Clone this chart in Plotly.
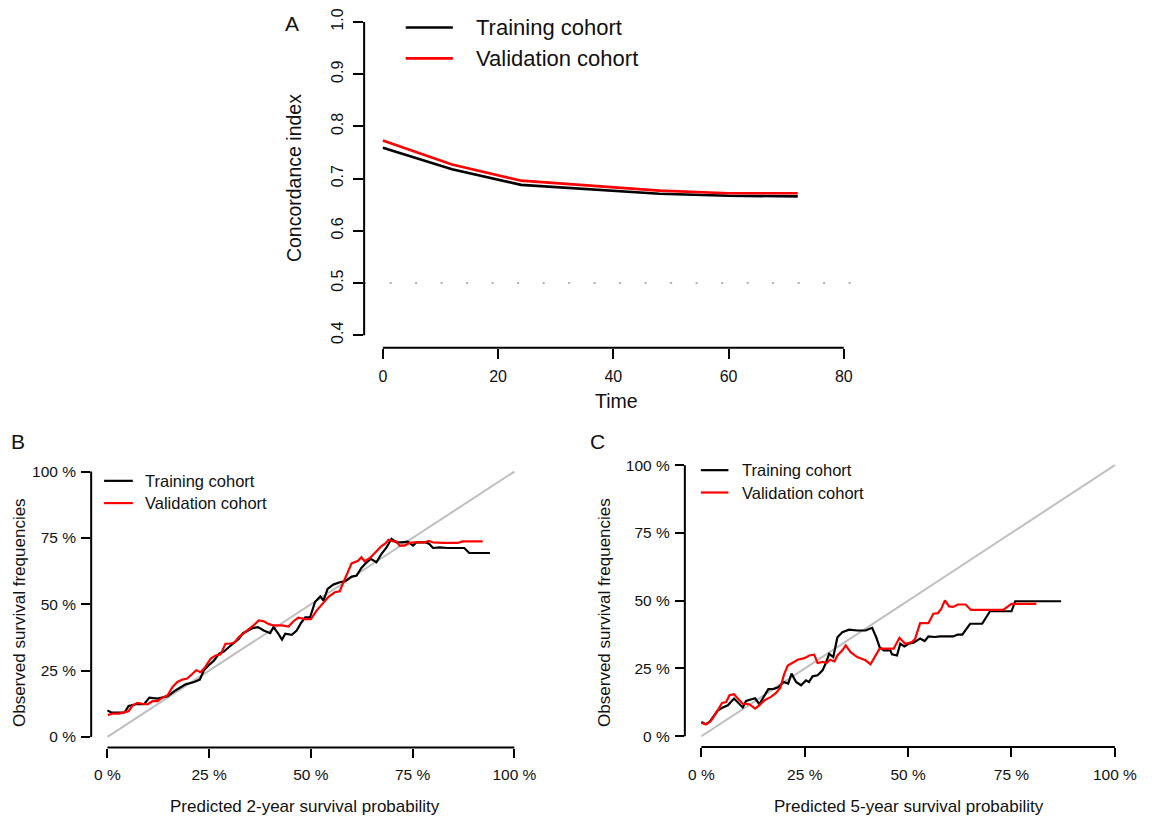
import plotly.graph_objects as go

# ---------------- Data ----------------
# Panel A: time-dependent concordance index
time_points = [0, 12, 24, 36, 48, 60, 72]
cindex_training = [0.759, 0.718, 0.688, 0.679, 0.671, 0.667, 0.666]
cindex_validation = [0.773, 0.727, 0.696, 0.686, 0.677, 0.672, 0.672]

# Panel B: 2-year calibration (predicted %, observed %)
b_train_x = [0.0, 0.9, 4.2, 5.2, 7.0, 9.0, 10.3, 12.3, 14.8, 16.8, 19.2, 21.3, 22.7, 23.7, 24.9,
             26.2, 27.4, 28.6, 29.8, 31.0, 32.3, 33.3, 34.7, 35.9, 37.0, 38.4, 40.0, 40.8, 41.9,
             42.9, 43.7, 45.3, 46.5, 47.5, 48.6, 49.8, 51.0, 52.3, 53.1, 54.1, 55.5, 57.1, 58.4,
             60.0, 61.2, 62.4, 63.7, 64.7, 66.1, 67.3, 68.5, 69.8, 71.0, 72.2, 73.8, 75.1, 75.9,
             78.3, 79.1, 80.0, 81.6, 83.6, 87.7, 88.9, 94.0]
b_train_y = [10.0, 9.2, 9.2, 11.7, 12.3, 12.3, 14.8, 14.4, 15.3, 17.6, 19.8, 20.7, 21.6, 25.1, 27.0,
             28.8, 31.3, 32.2, 33.8, 35.3, 37.0, 39.1, 40.1, 41.1, 41.4, 40.1, 39.1, 41.4, 39.1,
             36.7, 38.9, 38.5, 40.1, 42.8, 45.1, 45.1, 50.8, 52.9, 51.4, 55.8, 57.4, 58.3, 58.7,
             60.4, 60.7, 63.7, 65.8, 67.1, 65.8, 68.9, 71.2, 74.6, 73.3, 73.3, 73.6, 72.1, 73.3,
             73.3, 72.7, 71.2, 71.4, 71.2, 71.2, 69.3, 69.3]
b_valid_x = [0.1, 1.3, 2.9, 4.2, 5.2, 6.2, 7.4, 8.6, 9.9, 11.1, 12.3, 13.5, 14.8, 16.0, 17.2, 18.4,
             19.6, 20.9, 21.8, 22.9, 24.0, 25.4, 26.6, 27.8, 29.0, 30.2, 31.3, 32.3, 33.5, 34.7,
             35.9, 37.2, 38.4, 39.6, 40.8, 42.9, 44.5, 45.7, 46.9, 48.6, 50.0, 51.4, 53.1, 54.4,
             55.9, 57.1, 58.0, 59.0, 60.0, 61.6, 62.4, 63.2, 64.5, 65.7, 67.2, 68.3, 69.1, 70.2,
             71.0, 71.8, 73.0, 74.2, 75.4, 77.9, 78.9, 80.0, 82.4, 86.1, 87.3, 92.2]
b_valid_y = [8.2, 8.8, 8.8, 9.4, 9.7, 11.9, 12.8, 12.5, 12.3, 13.5, 13.5, 14.8, 15.7, 18.8, 20.7, 21.6,
             22.0, 23.8, 25.1, 24.4, 26.3, 29.5, 30.7, 31.1, 35.1, 35.1, 35.7, 37.6, 39.1, 40.4,
             42.0, 43.9, 43.6, 42.6, 42.0, 42.0, 41.6, 43.6, 44.9, 44.4, 44.4, 47.6, 50.8, 52.9,
             54.5, 54.9, 58.3, 62.0, 65.4, 66.4, 67.7, 66.2, 67.4, 69.3, 71.7, 72.9, 74.3, 73.7,
             73.7, 72.1, 72.1, 73.1, 73.3, 73.3, 73.9, 73.3, 73.1, 73.1, 73.7, 73.7]

# Panel C: 5-year calibration (predicted %, observed %)
c_train_x = [0.0, 1.0, 2.0, 3.0, 4.0, 5.2, 6.4, 7.9, 8.8, 10.0, 10.8, 12.4, 13.0, 14.0, 15.2, 16.2,
             17.5, 18.6, 19.9, 21.0, 21.8, 22.9, 24.1, 25.3, 26.0, 26.9, 28.1, 29.3, 30.1, 30.9,
             31.9, 32.9, 34.1, 35.7, 37.7, 39.7, 41.3, 42.3, 43.1, 44.1, 45.7, 46.1, 47.3, 48.1,
             49.1, 50.1, 51.3, 52.9, 54.0, 54.9, 56.5, 57.7, 60.9, 62.0, 63.1, 65.0, 67.9, 69.8,
             75.0, 75.9, 87.0]
c_train_y = [5.3, 4.4, 5.3, 7.7, 9.6, 10.6, 11.4, 13.9, 12.6, 10.6, 13.0, 13.9, 14.0, 11.8, 14.7, 17.4,
             17.5, 18.1, 20.0, 19.4, 23.1, 20.0, 18.8, 20.6, 20.0, 22.1, 22.5, 24.3, 27.0, 30.4,
             29.2, 36.5, 38.4, 39.3, 39.0, 39.0, 40.0, 36.5, 32.9, 31.7, 31.7, 30.2, 29.8, 34.1,
             33.1, 34.1, 34.5, 36.0, 35.1, 36.8, 36.6, 36.8, 36.8, 37.5, 37.5, 41.5, 41.5, 46.1,
             46.1, 49.8, 49.8]
c_valid_x = [0.0, 1.2, 2.4, 3.6, 5.0, 6.0, 6.8, 7.9, 8.8, 10.0, 11.6, 13.0, 14.0, 15.2, 16.8, 18.0,
             19.1, 20.0, 20.9, 22.1, 23.3, 24.9, 26.1, 27.3, 28.1, 29.3, 30.3, 31.1, 32.2, 32.9,
             34.1, 34.9, 36.1, 37.7, 39.7, 40.9, 42.3, 43.1, 46.5, 47.9, 49.3, 50.9, 51.7, 52.9,
             54.9, 56.1, 57.2, 58.0, 58.9, 59.9, 60.9, 62.0, 63.9, 65.2, 73.0, 75.0, 81.0]
c_valid_y = [4.9, 4.4, 5.9, 8.6, 12.3, 12.6, 15.1, 15.5, 13.9, 12.0, 11.8, 10.2, 11.4, 13.2, 14.5, 15.9,
             17.9, 22.8, 26.1, 27.0, 28.2, 28.8, 29.8, 30.1, 27.0, 27.4, 27.0, 28.2, 27.6, 29.8,
             31.7, 33.5, 31.0, 29.2, 28.0, 26.5, 30.4, 32.3, 32.3, 36.3, 34.1, 34.7, 36.0, 41.7,
             41.7, 45.2, 45.4, 47.0, 50.1, 47.9, 47.7, 48.6, 48.6, 46.6, 46.6, 48.8, 48.8]

ideal = [0, 100]
series_names = ["Training cohort", "Validation cohort"]
pct_ticks = [0, 25, 50, 75, 100]
a_xticks = [0, 20, 40, 60, 80]
a_yticks = [0.4, 0.5, 0.6, 0.7, 0.8, 0.9, 1.0]

# ---------------- Layout helpers ----------------
# The page body has an 8px margin, so the figure is sized to fit inside the window
OFF = 8
W, H = 1157 - OFF, 819 - OFF
def fx(p):
    return min(max((p - OFF) / W, 0.0), 1.0)
def fy(p):
    return min(max(1 - (p - OFF) / H, 0.0), 1.0)

FONT = "Arial, 'Liberation Sans', Helvetica, sans-serif"
TXT = "#111111"
BLACK = "#000000"
RED = "#ff0000"
GREY = "#bfbfbf"

# Panel A pixel scale: 0.4 at y=334, 1.0 at y=20 -> plot top clipped at y=8
A_PX_PER_UNIT = (334 - 20) / 0.6
a_ytop = 1.0 + (20 - OFF) / A_PX_PER_UNIT

fig = go.Figure()

# Panel A
fig.add_trace(go.Scatter(x=time_points, y=cindex_training, mode="lines",
                         line=dict(color=BLACK, width=2.6), xaxis="x", yaxis="y",
                         name=series_names[0], showlegend=False))
fig.add_trace(go.Scatter(x=time_points, y=cindex_validation, mode="lines",
                         line=dict(color=RED, width=2.6), xaxis="x", yaxis="y",
                         name=series_names[1], showlegend=False))

# Panel B
fig.add_trace(go.Scatter(x=ideal, y=ideal, mode="lines", line=dict(color=GREY, width=2),
                         xaxis="x2", yaxis="y2", showlegend=False, hoverinfo="skip"))
fig.add_trace(go.Scatter(x=b_train_x, y=b_train_y, mode="lines", line=dict(color=BLACK, width=2.2),
                         xaxis="x2", yaxis="y2", name=series_names[0], showlegend=False))
fig.add_trace(go.Scatter(x=b_valid_x, y=b_valid_y, mode="lines", line=dict(color=RED, width=2.2),
                         xaxis="x2", yaxis="y2", name=series_names[1], showlegend=False))

# Panel C
fig.add_trace(go.Scatter(x=ideal, y=ideal, mode="lines", line=dict(color=GREY, width=2),
                         xaxis="x3", yaxis="y3", showlegend=False, hoverinfo="skip"))
fig.add_trace(go.Scatter(x=c_train_x, y=c_train_y, mode="lines", line=dict(color=BLACK, width=2.2),
                         xaxis="x3", yaxis="y3", name=series_names[0], showlegend=False))
fig.add_trace(go.Scatter(x=c_valid_x, y=c_valid_y, mode="lines", line=dict(color=RED, width=2.2),
                         xaxis="x3", yaxis="y3", name=series_names[1], showlegend=False))

def axis_common(ticklen, size):
    return dict(showgrid=False, zeroline=False, showline=False, ticks="outside",
                ticklen=ticklen, tickwidth=2, tickcolor=BLACK, ticklabeloverflow="allow",
                tickfont=dict(family=FONT, size=size, color=TXT), fixedrange=True)

fig.update_layout(
    width=W, height=H, margin=dict(l=0, r=0, t=0, b=0),
    paper_bgcolor="white", plot_bgcolor="white",
    xaxis=dict(domain=[fx(366), fx(874)], range=[-3.25, 84.45], anchor="y",
               tickmode="array", tickvals=a_xticks, ticklabelstandoff=4,
               **axis_common(10, 16)),
    yaxis=dict(domain=[fy(346.56), 1.0], range=[0.376, a_ytop], anchor="x",
               tickmode="array", tickvals=a_yticks, ticktext=[f"{v:.1f}" for v in a_yticks],
               tickangle=-90, ticklabelstandoff=4, **axis_common(10, 16)),
    xaxis2=dict(domain=[fx(91.6), fx(533.4)], range=[-4, 104], anchor="y2",
                tickmode="array", tickvals=pct_ticks, ticktext=[f"{v} %" for v in pct_ticks],
                ticklabelstandoff=4, **axis_common(9, 15.5)),
    yaxis2=dict(domain=[fy(747.34), fy(460.06)], range=[-4, 104], anchor="x2",
                tickmode="array", tickvals=pct_ticks, ticktext=[f"{v} %" for v in pct_ticks],
                ticklabelstandoff=2, **axis_common(9, 15.5)),
    xaxis3=dict(domain=[fx(688.4), fx(1137.3)], range=[-4, 104], anchor="y3",
                tickmode="array", tickvals=pct_ticks, ticktext=[f"{v} %" for v in pct_ticks],
                ticklabelstandoff=4, **axis_common(9, 15.5)),
    yaxis3=dict(domain=[fy(746.9), fy(453.4)], range=[-4, 104], anchor="x3",
                tickmode="array", tickvals=pct_ticks, ticktext=[f"{v} %" for v in pct_ticks],
                ticklabelstandoff=2, **axis_common(9, 15.5)),
)

shapes = []
# R-style axis lines spanning first to last tick
def xline(xa, ya, a, b):
    shapes.append(dict(type="line", xref=xa, yref=ya + " domain", x0=a, x1=b, y0=0, y1=0,
                       line=dict(color=BLACK, width=2)))
def yline(xa, ya, a, b):
    shapes.append(dict(type="line", xref=xa + " domain", yref=ya, x0=0, x1=0, y0=a, y1=b,
                       line=dict(color=BLACK, width=2)))
xline("x", "y", 0, 80); yline("x", "y", 0.4, 1.0)
xline("x2", "y2", 0, 100); yline("x2", "y2", 0, 100)
xline("x3", "y3", 0, 100); yline("x3", "y3", 0, 100)
# dotted reference at 0.5 in panel A
shapes.append(dict(type="line", xref="x domain", yref="y", x0=0, x1=1, y0=0.5, y1=0.5,
                   line=dict(color="#b0b0b0", width=2, dash="2px,23.5px"), layer="below"))

annotations = []
def text(x, y, s, size, xanchor="center", angle=0):
    annotations.append(dict(x=fx(x), y=fy(y), xref="paper", yref="paper", text=s,
                            showarrow=False, xanchor=xanchor, yanchor="middle", textangle=angle,
                            font=dict(family=FONT, size=size, color=TXT)))

# Manual legends
def legend(x0, x1, xt, ys, size, width):
    for (yy, col, name) in zip(ys, [BLACK, RED], series_names):
        shapes.append(dict(type="line", xref="paper", yref="paper", x0=fx(x0), x1=fx(x1),
                           y0=fy(yy), y1=fy(yy), line=dict(color=col, width=width)))
        text(xt, yy, name, size, xanchor="left")

legend(407.8, 455.2, 476, [25.5, 56.5], 22, 2.6)
legend(104.6, 133.5, 143.5, [480, 502.3], 16.5, 2.2)
legend(704.5, 732.2, 744, [469.3, 491.7], 16.5, 2.2)

# Panel letters
text(293, 22, "A", 21)
text(18, 441, "B", 21)
text(601, 441, "C", 21)

# Axis titles
text(295, 177, "Concordance index", 19.5, angle=-90)
text(620, 400, "Time", 19.5)
text(19.6, 612, "Observed survival frequencies", 17, angle=-90)
text(307, 806, "Predicted 2-year survival probability", 17)
text(607.5, 612, "Observed survival frequencies", 17, angle=-90)
text(913.6, 806, "Predicted 5-year survival probability", 17)

fig.update_layout(shapes=shapes, annotations=annotations)
fig.write_html("out.html")
